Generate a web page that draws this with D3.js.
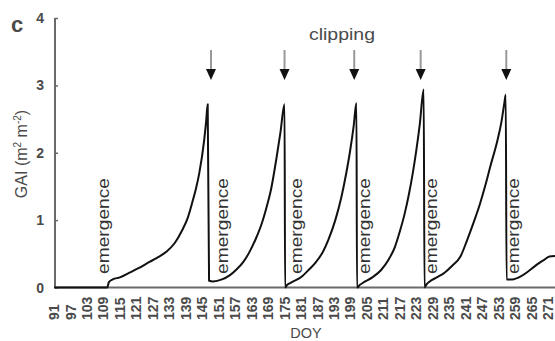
<!DOCTYPE html>
<html>
<head>
<meta charset="utf-8">
<script src="https://cdn.jsdelivr.net/npm/d3@7"></script>
<style>
  body { margin: 0; background: #fff; }
  svg { display: block; font-family: "Liberation Sans", Arial, sans-serif; }
</style>
</head>
<body>
<svg id="chart"></svg>
<script>
// day of year and GAI
let gaiDays = [
  91, 110.4, 111.0, 112.4, 115, 118.5, 122, 125.8, 128.5, 131.9, 135, 137.7, 139.7, 141.3, 142.8, 143.9, 145.7, 146.4, 147.0, 147.5,
  149, 152.2, 155, 157.3, 160, 162, 164.5, 166.7, 168.5, 170, 172.1, 173.5, 175.0, 175.2,
  176, 177.2, 181.2, 184, 186.3, 189, 191, 193.5, 195.7, 197.5, 198.9, 200.2, 201.2, 201.4,
  202.5, 203.6, 207, 210.2, 213, 215.2, 217, 218.8, 220.3, 221.7, 223, 224.3, 225.7, 226.0,
  226.8, 227.9, 230.5, 233.3, 236, 239.1, 241.5, 244.2, 246.2, 248.2, 250, 252.5, 254, 255.1, 255.6, 255.9,
  258, 260.9, 263.5, 266, 268, 269.6, 271.5, 274
];
let gaiValues = [
  0, 0, 0.08, 0.12, 0.15, 0.22, 0.29, 0.38, 0.44, 0.53, 0.66, 0.85, 1.03, 1.25, 1.48, 1.69, 2.18, 2.45, 2.72, 0.10,
  0.09, 0.12, 0.18, 0.26, 0.38, 0.51, 0.72, 0.95, 1.2, 1.44, 1.93, 2.3, 2.72, 0,
  0.04, 0.07, 0.16, 0.27, 0.37, 0.53, 0.71, 1.0, 1.34, 1.7, 2.03, 2.4, 2.74, 0,
  0.04, 0.07, 0.15, 0.26, 0.42, 0.6, 0.83, 1.1, 1.38, 1.69, 2.03, 2.43, 2.94, 0,
  0.05, 0.09, 0.15, 0.22, 0.32, 0.46, 0.7, 1.0, 1.24, 1.52, 1.80, 2.17, 2.45, 2.74, 2.86, 0.12,
  0.12, 0.16, 0.23, 0.31, 0.37, 0.41, 0.46, 0.47
];
let xTickLabels = [91, 97, 103, 109, 115, 121, 127, 133, 139, 145, 151, 157, 163, 169, 175, 181,
  187, 193, 199, 205, 211, 217, 223, 229, 235, 241, 247, 253, 259, 265, 271];
let yTickLabels = [0, 1, 2, 3, 4];
let clipDays = [148.2, 175.0, 200.4, 224.6, 255.8];
let emergenceDays = [111.0, 154.4, 181.5, 206.2, 230.4, 260.5];

let width = 555, height = 341;
let svg = d3.select("#chart").attr("width", width).attr("height", height);

let x = d3.scaleLinear().domain([91, 271]).range([54, 548]);
let y = d3.scaleLinear().domain([0, 4]).range([287.5, 18]);

let textCol = "#4a4a4a";
let axisCol = "#6a6a6a";

// axes
let yAxis = svg.append("g")
  .attr("transform", "translate(55,0)")
  .call(d3.axisRight(y).tickValues(yTickLabels).tickSize(3).tickFormat(""));
yAxis.select(".domain").attr("stroke", axisCol).attr("stroke-width", 2).attr("d", "M0," + y(0) + "V" + y(4));
yAxis.selectAll(".tick line").attr("stroke", axisCol).attr("stroke-width", 1.5);

svg.selectAll(".ylab")
  .data(yTickLabels)
  .enter().append("text")
  .attr("x", 44)
  .attr("y", d => y(d))
  .attr("dy", "0.36em")
  .attr("text-anchor", "end")
  .attr("font-size", 14)
  .attr("font-weight", "bold")
  .attr("fill", textCol)
  .text(d => d);

svg.append("line")
  .attr("x1", 55).attr("x2", 555)
  .attr("y1", y(0)).attr("y2", y(0))
  .attr("stroke", axisCol).attr("stroke-width", 2);

svg.selectAll(".xlab")
  .data(xTickLabels)
  .enter().append("text")
  .attr("transform", d => "translate(" + x(d) + ",320) rotate(-90)")
  .attr("dy", "0.36em")
  .attr("text-anchor", "start")
  .attr("font-size", 14)
  .attr("font-weight", "bold")
  .attr("fill", textCol)
  .text(d => d);

// titles
svg.append("text")
  .attr("x", 306).attr("y", 338)
  .attr("text-anchor", "middle")
  .attr("font-size", 14.5)
  .attr("fill", textCol)
  .text("DOY");

let yt = svg.append("text")
  .attr("transform", "translate(27,154) rotate(-90)")
  .attr("text-anchor", "middle")
  .attr("font-size", 16)
  .attr("fill", textCol);
yt.append("tspan").text("GAI (m");
yt.append("tspan").attr("font-size", 10).attr("dy", -6).text("2");
yt.append("tspan").attr("dy", 6).text(" m");
yt.append("tspan").attr("font-size", 10).attr("dy", -6).text("-2");
yt.append("tspan").attr("dy", 6).text(")");

svg.append("text")
  .attr("x", 11).attr("y", 32)
  .attr("font-size", 22)
  .attr("font-weight", "bold")
  .attr("fill", textCol)
  .text("c");

svg.append("text")
  .attr("x", 342).attr("y", 40)
  .attr("text-anchor", "middle")
  .attr("font-size", 16.5)
  .attr("textLength", 66)
  .attr("lengthAdjust", "spacingAndGlyphs")
  .attr("fill", textCol)
  .text("clipping");

// clipping arrows
let arrows = svg.selectAll(".arrow")
  .data(clipDays)
  .enter().append("g")
  .attr("transform", d => "translate(" + x(d) + ",0)");
arrows.append("line")
  .attr("x1", 0).attr("x2", 0)
  .attr("y1", 50).attr("y2", 70)
  .attr("stroke", "#999").attr("stroke-width", 2);
arrows.append("path")
  .attr("d", "M-5,69L5,69L0,80Z")
  .attr("fill", "#111");

// emergence labels
svg.selectAll(".emerg")
  .data(emergenceDays)
  .enter().append("text")
  .attr("transform", d => "translate(" + x(d) + ",274) rotate(-90)")
  .attr("font-size", 16.5)
  .attr("textLength", 96)
  .attr("lengthAdjust", "spacingAndGlyphs")
  .attr("fill", "#333")
  .text("emergence");

// GAI line
let line = d3.line()
  .x((d, i) => x(gaiDays[i]))
  .y(d => y(d))
  .curve(d3.curveMonotoneX);

svg.append("path")
  .datum(gaiValues)
  .attr("d", line)
  .attr("fill", "none")
  .attr("stroke", "#111")
  .attr("stroke-width", 2)
  .attr("stroke-linejoin", "round");
</script>
</body>
</html>
